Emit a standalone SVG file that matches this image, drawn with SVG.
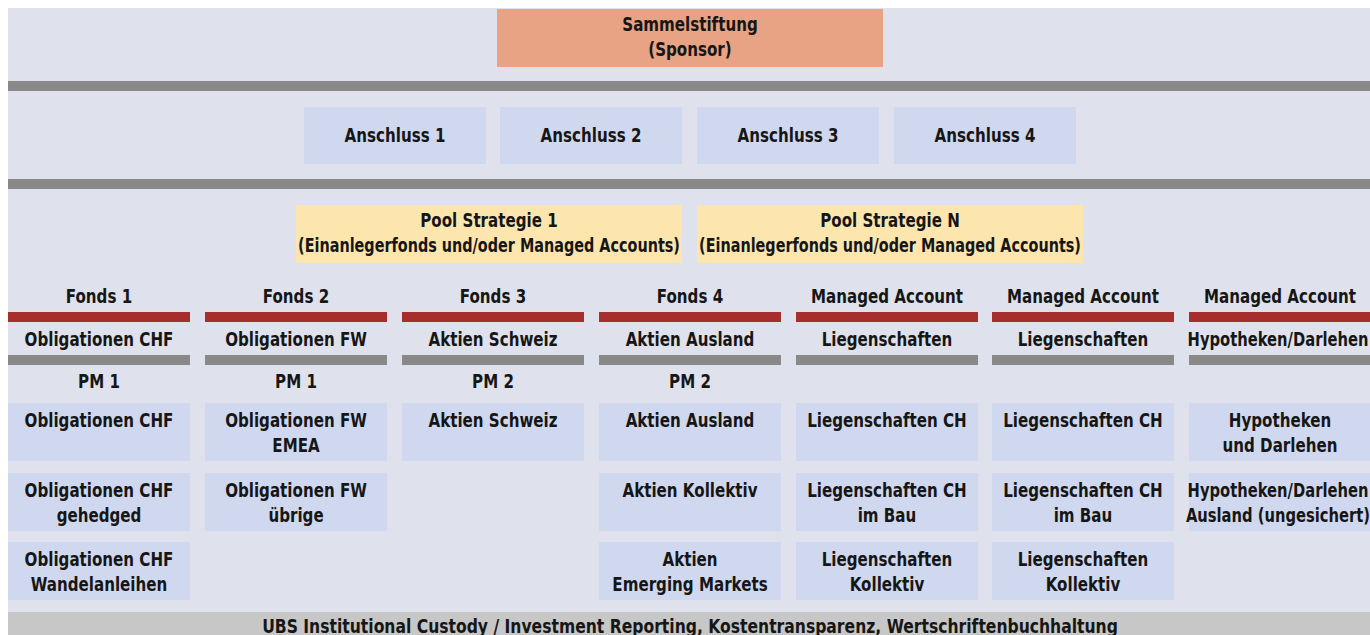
<svg xmlns="http://www.w3.org/2000/svg" width="1370" height="635" viewBox="0 0 1370 635">
<style>
text{font-family:"Liberation Sans Narrow","DejaVu Sans Condensed","Liberation Sans",sans-serif;font-weight:bold;font-size:20px;fill:#161616;text-anchor:middle}
.bg{fill:#DFE2EC}
.sp{fill:#E8A384}
.bl{fill:#D0D8F0}
.po{fill:#FDE5AE}
.gr{fill:#898989}
.rd{fill:#A62F2D}
.bt{fill:#C7C7C7}
</style>
<rect x="0" y="0" width="1370" height="635" fill="#FFFFFF"/>
<rect class="bg" x="8" y="8" width="1362" height="627"/>
<g id="connectors">
<rect class="gr" x="8" y="81" width="1362" height="10"/>
<rect class="gr" x="8" y="179" width="1362" height="10"/>
<rect class="rd" x="8" y="312" width="182" height="10"/>
<rect class="rd" x="205" y="312" width="182" height="10"/>
<rect class="rd" x="402" y="312" width="182" height="10"/>
<rect class="rd" x="599" y="312" width="182" height="10"/>
<rect class="rd" x="796" y="312" width="182" height="10"/>
<rect class="rd" x="992" y="312" width="182" height="10"/>
<rect class="rd" x="1189" y="312" width="181" height="10"/>
<rect class="gr" x="8" y="355" width="182" height="10"/>
<rect class="gr" x="205" y="355" width="182" height="10"/>
<rect class="gr" x="402" y="355" width="182" height="10"/>
<rect class="gr" x="599" y="355" width="182" height="10"/>
<rect class="gr" x="796" y="355" width="182" height="10"/>
<rect class="gr" x="992" y="355" width="182" height="10"/>
<rect class="gr" x="1189" y="355" width="181" height="10"/>
</g>
<g id="sponsor"><rect class="sp" x="497" y="9" width="386" height="58"/><text transform="translate(690 31) scale(0.84 1)">Sammelstiftung</text><text transform="translate(690 56) scale(0.84 1)">(Sponsor)</text></g>
<g id="anschluss1"><rect class="bl" x="304" y="107" width="182" height="57"/><text transform="translate(395 142) scale(0.84 1)">Anschluss 1</text></g>
<g id="anschluss2"><rect class="bl" x="500" y="107" width="182" height="57"/><text transform="translate(591 142) scale(0.84 1)">Anschluss 2</text></g>
<g id="anschluss3"><rect class="bl" x="697" y="107" width="182" height="57"/><text transform="translate(788 142) scale(0.84 1)">Anschluss 3</text></g>
<g id="anschluss4"><rect class="bl" x="894" y="107" width="182" height="57"/><text transform="translate(985 142) scale(0.84 1)">Anschluss 4</text></g>
<g id="pool1"><rect class="po" x="296" y="205" width="386" height="58"/><text transform="translate(489 227) scale(0.84 1)">Pool Strategie 1</text><text transform="translate(489 252) scale(0.8 1)">(Einanlegerfonds und/oder Managed Accounts)</text></g>
<g id="poolN"><rect class="po" x="697" y="205" width="386" height="58"/><text transform="translate(890 227) scale(0.84 1)">Pool Strategie N</text><text transform="translate(890 252) scale(0.8 1)">(Einanlegerfonds und/oder Managed Accounts)</text></g>
<g id="col1">
<text transform="translate(99 303) scale(0.84 1)">Fonds 1</text><text transform="translate(99 346) scale(0.84 1)">Obligationen CHF</text><text transform="translate(99 388) scale(0.84 1)">PM 1</text>
<rect class="bl" x="8" y="403" width="182" height="58"/><text transform="translate(99 427) scale(0.84 1)">Obligationen CHF</text>
<rect class="bl" x="8" y="473" width="182" height="58"/><text transform="translate(99 497) scale(0.84 1)">Obligationen CHF</text><text transform="translate(99 522) scale(0.84 1)">gehedged</text>
<rect class="bl" x="8" y="542" width="182" height="58"/><text transform="translate(99 566) scale(0.84 1)">Obligationen CHF</text><text transform="translate(99 591) scale(0.84 1)">Wandelanleihen</text>
</g>
<g id="col2">
<text transform="translate(296 303) scale(0.84 1)">Fonds 2</text><text transform="translate(296 346) scale(0.84 1)">Obligationen FW</text><text transform="translate(296 388) scale(0.84 1)">PM 1</text>
<rect class="bl" x="205" y="403" width="182" height="58"/><text transform="translate(296 427) scale(0.84 1)">Obligationen FW</text><text transform="translate(296 452) scale(0.84 1)">EMEA</text>
<rect class="bl" x="205" y="473" width="182" height="58"/><text transform="translate(296 497) scale(0.84 1)">Obligationen FW</text><text transform="translate(296 522) scale(0.84 1)">übrige</text>
</g>
<g id="col3">
<text transform="translate(493 303) scale(0.84 1)">Fonds 3</text><text transform="translate(493 346) scale(0.84 1)">Aktien Schweiz</text><text transform="translate(493 388) scale(0.84 1)">PM 2</text>
<rect class="bl" x="402" y="403" width="182" height="58"/><text transform="translate(493 427) scale(0.84 1)">Aktien Schweiz</text>
</g>
<g id="col4">
<text transform="translate(690 303) scale(0.84 1)">Fonds 4</text><text transform="translate(690 346) scale(0.84 1)">Aktien Ausland</text><text transform="translate(690 388) scale(0.84 1)">PM 2</text>
<rect class="bl" x="599" y="403" width="182" height="58"/><text transform="translate(690 427) scale(0.84 1)">Aktien Ausland</text>
<rect class="bl" x="599" y="473" width="182" height="58"/><text transform="translate(690 497) scale(0.84 1)">Aktien Kollektiv</text>
<rect class="bl" x="599" y="542" width="182" height="58"/><text transform="translate(690 566) scale(0.84 1)">Aktien</text><text transform="translate(690 591) scale(0.84 1)">Emerging Markets</text>
</g>
<g id="col5">
<text transform="translate(887 303) scale(0.84 1)">Managed Account</text><text transform="translate(887 346) scale(0.84 1)">Liegenschaften</text>
<rect class="bl" x="796" y="403" width="182" height="58"/><text transform="translate(887 427) scale(0.84 1)">Liegenschaften CH</text>
<rect class="bl" x="796" y="473" width="182" height="58"/><text transform="translate(887 497) scale(0.84 1)">Liegenschaften CH</text><text transform="translate(887 522) scale(0.84 1)">im Bau</text>
<rect class="bl" x="796" y="542" width="182" height="58"/><text transform="translate(887 566) scale(0.84 1)">Liegenschaften</text><text transform="translate(887 591) scale(0.84 1)">Kollektiv</text>
</g>
<g id="col6">
<text transform="translate(1083 303) scale(0.84 1)">Managed Account</text><text transform="translate(1083 346) scale(0.84 1)">Liegenschaften</text>
<rect class="bl" x="992" y="403" width="182" height="58"/><text transform="translate(1083 427) scale(0.84 1)">Liegenschaften CH</text>
<rect class="bl" x="992" y="473" width="182" height="58"/><text transform="translate(1083 497) scale(0.84 1)">Liegenschaften CH</text><text transform="translate(1083 522) scale(0.84 1)">im Bau</text>
<rect class="bl" x="992" y="542" width="182" height="58"/><text transform="translate(1083 566) scale(0.84 1)">Liegenschaften</text><text transform="translate(1083 591) scale(0.84 1)">Kollektiv</text>
</g>
<g id="col7">
<text transform="translate(1280 303) scale(0.84 1)">Managed Account</text><text transform="translate(1278 346) scale(0.82 1)">Hypotheken/Darlehen</text>
<rect class="bl" x="1189" y="403" width="181" height="58"/><text transform="translate(1280 427) scale(0.84 1)">Hypotheken</text><text transform="translate(1280 452) scale(0.84 1)">und Darlehen</text>
<rect class="bl" x="1189" y="473" width="181" height="58"/><text transform="translate(1278 497) scale(0.82 1)">Hypotheken/Darlehen</text><text transform="translate(1278 522) scale(0.82 1)">Ausland (ungesichert)</text>
</g>
<g id="custody"><rect class="bt" x="8" y="612" width="1362" height="23"/><text transform="translate(690 633) scale(0.867 1)">UBS Institutional Custody / Investment Reporting, Kostentransparenz, Wertschriftenbuchhaltung</text></g>
</svg>
